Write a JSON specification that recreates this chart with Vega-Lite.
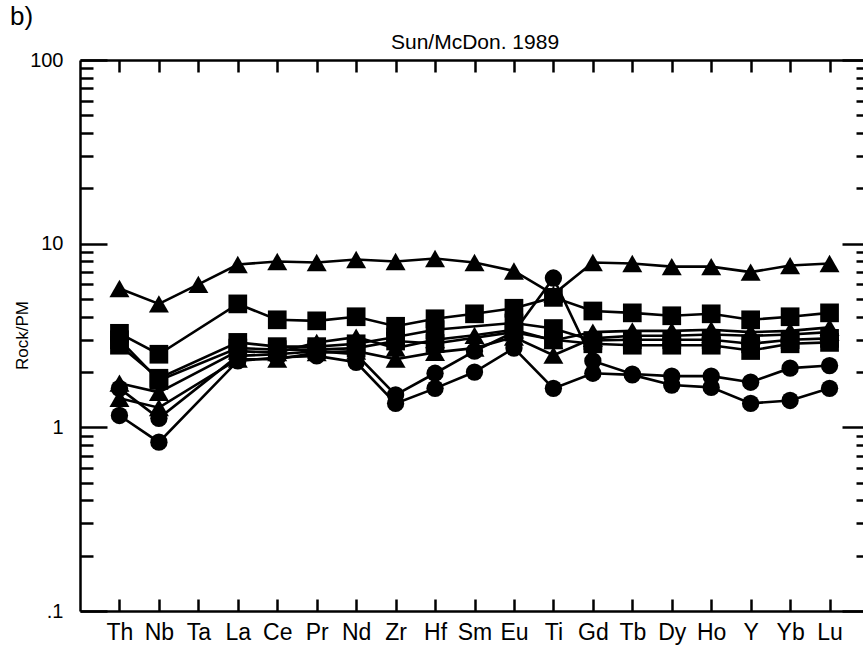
{
  "$schema": "https://vega.github.io/schema/vega-lite/v6.json",
  "autosize": {"type": "none"},
  "padding": {"left": 80, "top": 60, "right": 0, "bottom": 36},
  "width": 789,
  "height": 551,
  "background": "white",
  "config": {"view": {"stroke": null}, "font": "Liberation Sans"},
  "title": {"text": "b)", "anchor": "start", "frame": "group", "dx": -70, "dy": 2, "fontSize": 26, "fontWeight": "normal", "color": "black", "font": "Liberation Sans"},
  "data": {"values": [
    {"sample": "T1", "symbol": "triangle", "element": "Th", "value": 5.7},
    {"sample": "T1", "symbol": "triangle", "element": "Nb", "value": 4.7},
    {"sample": "T1", "symbol": "triangle", "element": "Ta", "value": 6.0},
    {"sample": "T1", "symbol": "triangle", "element": "La", "value": 7.7},
    {"sample": "T1", "symbol": "triangle", "element": "Ce", "value": 8.0},
    {"sample": "T1", "symbol": "triangle", "element": "Pr", "value": 7.9},
    {"sample": "T1", "symbol": "triangle", "element": "Nd", "value": 8.2},
    {"sample": "T1", "symbol": "triangle", "element": "Zr", "value": 8.0},
    {"sample": "T1", "symbol": "triangle", "element": "Hf", "value": 8.3},
    {"sample": "T1", "symbol": "triangle", "element": "Sm", "value": 7.9},
    {"sample": "T1", "symbol": "triangle", "element": "Eu", "value": 7.1},
    {"sample": "T1", "symbol": "triangle", "element": "Ti", "value": 5.3},
    {"sample": "T1", "symbol": "triangle", "element": "Gd", "value": 7.9},
    {"sample": "T1", "symbol": "triangle", "element": "Tb", "value": 7.8},
    {"sample": "T1", "symbol": "triangle", "element": "Dy", "value": 7.5},
    {"sample": "T1", "symbol": "triangle", "element": "Ho", "value": 7.5},
    {"sample": "T1", "symbol": "triangle", "element": "Y", "value": 7.0},
    {"sample": "T1", "symbol": "triangle", "element": "Yb", "value": 7.6},
    {"sample": "T1", "symbol": "triangle", "element": "Lu", "value": 7.8},

    {"sample": "S1", "symbol": "square", "element": "Th", "value": 3.25},
    {"sample": "S1", "symbol": "square", "element": "Nb", "value": 2.5},
    {"sample": "S1", "symbol": "square", "element": "La", "value": 4.7},
    {"sample": "S1", "symbol": "square", "element": "Ce", "value": 3.85},
    {"sample": "S1", "symbol": "square", "element": "Pr", "value": 3.8},
    {"sample": "S1", "symbol": "square", "element": "Nd", "value": 4.0},
    {"sample": "S1", "symbol": "square", "element": "Zr", "value": 3.55},
    {"sample": "S1", "symbol": "square", "element": "Hf", "value": 3.9},
    {"sample": "S1", "symbol": "square", "element": "Sm", "value": 4.15},
    {"sample": "S1", "symbol": "square", "element": "Eu", "value": 4.45},
    {"sample": "S1", "symbol": "square", "element": "Ti", "value": 5.1},
    {"sample": "S1", "symbol": "square", "element": "Gd", "value": 4.3},
    {"sample": "S1", "symbol": "square", "element": "Tb", "value": 4.2},
    {"sample": "S1", "symbol": "square", "element": "Dy", "value": 4.05},
    {"sample": "S1", "symbol": "square", "element": "Ho", "value": 4.15},
    {"sample": "S1", "symbol": "square", "element": "Y", "value": 3.85},
    {"sample": "S1", "symbol": "square", "element": "Yb", "value": 4.0},
    {"sample": "S1", "symbol": "square", "element": "Lu", "value": 4.2},

    {"sample": "S2", "symbol": "square", "element": "Th", "value": 2.8},
    {"sample": "S2", "symbol": "square", "element": "Nb", "value": 1.85},
    {"sample": "S2", "symbol": "square", "element": "La", "value": 2.9},
    {"sample": "S2", "symbol": "square", "element": "Ce", "value": 2.75},
    {"sample": "S2", "symbol": "square", "element": "Pr", "value": 2.75},
    {"sample": "S2", "symbol": "square", "element": "Nd", "value": 2.85},
    {"sample": "S2", "symbol": "square", "element": "Zr", "value": 3.1},
    {"sample": "S2", "symbol": "square", "element": "Hf", "value": 3.4},
    {"sample": "S2", "symbol": "square", "element": "Eu", "value": 3.7},
    {"sample": "S2", "symbol": "square", "element": "Ti", "value": 3.45},
    {"sample": "S2", "symbol": "square", "element": "Gd", "value": 2.97},
    {"sample": "S2", "symbol": "square", "element": "Tb", "value": 3.0},
    {"sample": "S2", "symbol": "square", "element": "Dy", "value": 3.0},
    {"sample": "S2", "symbol": "square", "element": "Ho", "value": 3.0},
    {"sample": "S2", "symbol": "square", "element": "Y", "value": 2.85},
    {"sample": "S2", "symbol": "square", "element": "Yb", "value": 3.0},
    {"sample": "S2", "symbol": "square", "element": "Lu", "value": 3.05},

    {"sample": "S3", "symbol": "square", "element": "Th", "value": 3.0},
    {"sample": "S3", "symbol": "square", "element": "Nb", "value": 1.8},
    {"sample": "S3", "symbol": "square", "element": "La", "value": 2.7},
    {"sample": "S3", "symbol": "square", "element": "Ce", "value": 2.65},
    {"sample": "S3", "symbol": "square", "element": "Pr", "value": 2.65},
    {"sample": "S3", "symbol": "square", "element": "Nd", "value": 2.7},
    {"sample": "S3", "symbol": "square", "element": "Zr", "value": 2.95},
    {"sample": "S3", "symbol": "square", "element": "Hf", "value": 2.86},
    {"sample": "S3", "symbol": "square", "element": "Eu", "value": 3.3},
    {"sample": "S3", "symbol": "square", "element": "Ti", "value": 3.0},
    {"sample": "S3", "symbol": "square", "element": "Gd", "value": 2.85},
    {"sample": "S3", "symbol": "square", "element": "Tb", "value": 2.8},
    {"sample": "S3", "symbol": "square", "element": "Dy", "value": 2.8},
    {"sample": "S3", "symbol": "square", "element": "Ho", "value": 2.8},
    {"sample": "S3", "symbol": "square", "element": "Y", "value": 2.62},
    {"sample": "S3", "symbol": "square", "element": "Yb", "value": 2.85},
    {"sample": "S3", "symbol": "square", "element": "Lu", "value": 2.9},

    {"sample": "T2", "symbol": "triangle", "element": "Th", "value": 1.74},
    {"sample": "T2", "symbol": "triangle", "element": "Nb", "value": 1.55},
    {"sample": "T2", "symbol": "triangle", "element": "La", "value": 2.6},
    {"sample": "T2", "symbol": "triangle", "element": "Ce", "value": 2.55},
    {"sample": "T2", "symbol": "triangle", "element": "Pr", "value": 2.9},
    {"sample": "T2", "symbol": "triangle", "element": "Nd", "value": 3.1},
    {"sample": "T2", "symbol": "triangle", "element": "Zr", "value": 2.7},
    {"sample": "T2", "symbol": "triangle", "element": "Hf", "value": 3.0},
    {"sample": "T2", "symbol": "triangle", "element": "Sm", "value": 3.17},
    {"sample": "T2", "symbol": "triangle", "element": "Eu", "value": 3.4},
    {"sample": "T2", "symbol": "triangle", "element": "Ti", "value": 2.97},
    {"sample": "T2", "symbol": "triangle", "element": "Gd", "value": 3.3},
    {"sample": "T2", "symbol": "triangle", "element": "Tb", "value": 3.35},
    {"sample": "T2", "symbol": "triangle", "element": "Dy", "value": 3.35},
    {"sample": "T2", "symbol": "triangle", "element": "Ho", "value": 3.4},
    {"sample": "T2", "symbol": "triangle", "element": "Y", "value": 3.3},
    {"sample": "T2", "symbol": "triangle", "element": "Yb", "value": 3.35},
    {"sample": "T2", "symbol": "triangle", "element": "Lu", "value": 3.5},

    {"sample": "T3", "symbol": "triangle", "element": "Th", "value": 1.44},
    {"sample": "T3", "symbol": "triangle", "element": "Nb", "value": 1.28},
    {"sample": "T3", "symbol": "triangle", "element": "La", "value": 2.35},
    {"sample": "T3", "symbol": "triangle", "element": "Ce", "value": 2.35},
    {"sample": "T3", "symbol": "triangle", "element": "Pr", "value": 2.55},
    {"sample": "T3", "symbol": "triangle", "element": "Nd", "value": 2.6},
    {"sample": "T3", "symbol": "triangle", "element": "Zr", "value": 2.35},
    {"sample": "T3", "symbol": "triangle", "element": "Hf", "value": 2.56},
    {"sample": "T3", "symbol": "triangle", "element": "Sm", "value": 2.7},
    {"sample": "T3", "symbol": "triangle", "element": "Eu", "value": 3.1},
    {"sample": "T3", "symbol": "triangle", "element": "Ti", "value": 2.47},
    {"sample": "T3", "symbol": "triangle", "element": "Gd", "value": 3.05},
    {"sample": "T3", "symbol": "triangle", "element": "Tb", "value": 3.15},
    {"sample": "T3", "symbol": "triangle", "element": "Dy", "value": 3.15},
    {"sample": "T3", "symbol": "triangle", "element": "Ho", "value": 3.2},
    {"sample": "T3", "symbol": "triangle", "element": "Y", "value": 3.15},
    {"sample": "T3", "symbol": "triangle", "element": "Yb", "value": 3.2},
    {"sample": "T3", "symbol": "triangle", "element": "Lu", "value": 3.3},

    {"sample": "C1", "symbol": "circle", "element": "Th", "value": 1.63},
    {"sample": "C1", "symbol": "circle", "element": "Nb", "value": 1.12},
    {"sample": "C1", "symbol": "circle", "element": "La", "value": 2.45},
    {"sample": "C1", "symbol": "circle", "element": "Ce", "value": 2.5},
    {"sample": "C1", "symbol": "circle", "element": "Pr", "value": 2.6},
    {"sample": "C1", "symbol": "circle", "element": "Nd", "value": 2.5},
    {"sample": "C1", "symbol": "circle", "element": "Zr", "value": 1.5},
    {"sample": "C1", "symbol": "circle", "element": "Hf", "value": 1.97},
    {"sample": "C1", "symbol": "circle", "element": "Sm", "value": 2.6},
    {"sample": "C1", "symbol": "circle", "element": "Eu", "value": 3.3},
    {"sample": "C1", "symbol": "circle", "element": "Ti", "value": 6.5},
    {"sample": "C1", "symbol": "circle", "element": "Gd", "value": 2.3},
    {"sample": "C1", "symbol": "circle", "element": "Tb", "value": 1.95},
    {"sample": "C1", "symbol": "circle", "element": "Dy", "value": 1.9},
    {"sample": "C1", "symbol": "circle", "element": "Ho", "value": 1.9},
    {"sample": "C1", "symbol": "circle", "element": "Y", "value": 1.76},
    {"sample": "C1", "symbol": "circle", "element": "Yb", "value": 2.1},
    {"sample": "C1", "symbol": "circle", "element": "Lu", "value": 2.17},

    {"sample": "C2", "symbol": "circle", "element": "Th", "value": 1.16},
    {"sample": "C2", "symbol": "circle", "element": "Nb", "value": 0.83},
    {"sample": "C2", "symbol": "circle", "element": "La", "value": 2.3},
    {"sample": "C2", "symbol": "circle", "element": "Ce", "value": 2.4},
    {"sample": "C2", "symbol": "circle", "element": "Pr", "value": 2.45},
    {"sample": "C2", "symbol": "circle", "element": "Nd", "value": 2.26},
    {"sample": "C2", "symbol": "circle", "element": "Zr", "value": 1.35},
    {"sample": "C2", "symbol": "circle", "element": "Hf", "value": 1.63},
    {"sample": "C2", "symbol": "circle", "element": "Sm", "value": 2.0},
    {"sample": "C2", "symbol": "circle", "element": "Eu", "value": 2.7},
    {"sample": "C2", "symbol": "circle", "element": "Ti", "value": 1.63},
    {"sample": "C2", "symbol": "circle", "element": "Gd", "value": 1.97},
    {"sample": "C2", "symbol": "circle", "element": "Tb", "value": 1.93},
    {"sample": "C2", "symbol": "circle", "element": "Dy", "value": 1.7},
    {"sample": "C2", "symbol": "circle", "element": "Ho", "value": 1.65},
    {"sample": "C2", "symbol": "circle", "element": "Y", "value": 1.35},
    {"sample": "C2", "symbol": "circle", "element": "Yb", "value": 1.4},
    {"sample": "C2", "symbol": "circle", "element": "Lu", "value": 1.63}
  ]},
  "layer": [
    {
      "mark": {"type": "line", "color": "black", "strokeWidth": 2.6},
      "encoding": {
        "x": {
          "field": "element", "type": "ordinal",
          "scale": {"type": "point", "padding": 1, "domain": ["Th","Nb","Ta","La","Ce","Pr","Nd","Zr","Hf","Sm","Eu","Ti","Gd","Tb","Dy","Ho","Y","Yb","Lu"]},
          "axis": {
            "orient": "bottom", "title": null, "domainColor": "black", "domainWidth": 2.5,
            "tickColor": "black", "tickWidth": 2.5, "tickSize": -12,
            "labelAngle": 0, "labelFontSize": 23, "labelColor": "black", "labelPadding": 22,
            "labelFont": "Liberation Sans"
          }
        },
        "y": {
          "field": "value", "type": "quantitative",
          "scale": {"type": "log", "domain": [0.1, 100], "nice": false},
          "axis": {
            "orient": "left", "title": "Rock/PM", "titleFontSize": 17, "titleFontWeight": "normal",
            "titleColor": "black", "titleFont": "Liberation Sans",
            "titleX": -58, "titleY": 275, "titleAlign": "center", "titleBaseline": "middle", "titleAngle": -90,
            "values": [0.1,0.2,0.3,0.4,0.5,0.6,0.7,0.8,0.9,1,2,3,4,5,6,7,8,9,10,20,30,40,50,60,70,80,90,100],
            "labelExpr": "abs(datum.value-0.1)<1e-9 ? '.1' : abs(datum.value-1)<1e-9 ? '1' : abs(datum.value-10)<1e-9 ? '10' : abs(datum.value-100)<1e-9 ? '100' : ''",
            "labelOverlap": false, "labelBound": false, "labelFontSize": 20, "labelColor": "black",
            "labelFont": "Liberation Sans",
            "labelPadding": 44,
            "domainColor": "black", "domainWidth": 2.5, "tickColor": "black", "tickWidth": 2.5,
            "tickSize": {"condition": {"test": "abs(log(datum.value)/LN10 - round(log(datum.value)/LN10)) < 1e-6", "value": -27}, "value": -13},
            "grid": false
          }
        },
        "detail": {"field": "sample"}
      }
    },
    {
      "mark": {"type": "point", "filled": true, "opacity": 1, "color": "black", "strokeWidth": 0},
      "encoding": {
        "x": {
          "field": "element", "type": "ordinal",
          "scale": {"type": "point", "padding": 1, "domain": ["Th","Nb","Ta","La","Ce","Pr","Nd","Zr","Hf","Sm","Eu","Ti","Gd","Tb","Dy","Ho","Y","Yb","Lu"]},
          "axis": {
            "orient": "top", "title": "Sun/McDon. 1989", "titleFontSize": 21, "titleFontWeight": "normal",
            "titleColor": "black", "titlePadding": 6, "titleFont": "Liberation Sans",
            "labels": false, "domainColor": "black", "domainWidth": 2.5,
            "tickColor": "black", "tickWidth": 2.5, "tickSize": -12
          }
        },
        "y": {
          "field": "value", "type": "quantitative",
          "scale": {"type": "log", "domain": [0.1, 100], "nice": false},
          "axis": {
            "orient": "right", "title": null, "labels": false, "grid": false,
            "values": [0.1,0.2,0.3,0.4,0.5,0.6,0.7,0.8,0.9,1,2,3,4,5,6,7,8,9,10,20,30,40,50,60,70,80,90,100],
            "domainColor": "black", "domainWidth": 2.5, "tickColor": "black", "tickWidth": 2.5,
            "tickSize": {"condition": {"test": "abs(log(datum.value)/LN10 - round(log(datum.value)/LN10)) < 1e-6", "value": -27}, "value": -13}
          }
        },
        "shape": {"field": "symbol", "type": "nominal", "legend": null,
          "scale": {"domain": ["triangle","square","circle"], "range": ["triangle-up","square","circle"]}},
        "size": {"field": "symbol", "type": "nominal", "legend": null,
          "scale": {"domain": ["triangle","square","circle"], "range": [400, 300, 320]}}
      }
    }
  ],
  "resolve": {"axis": {"x": "independent", "y": "independent"}}
}
